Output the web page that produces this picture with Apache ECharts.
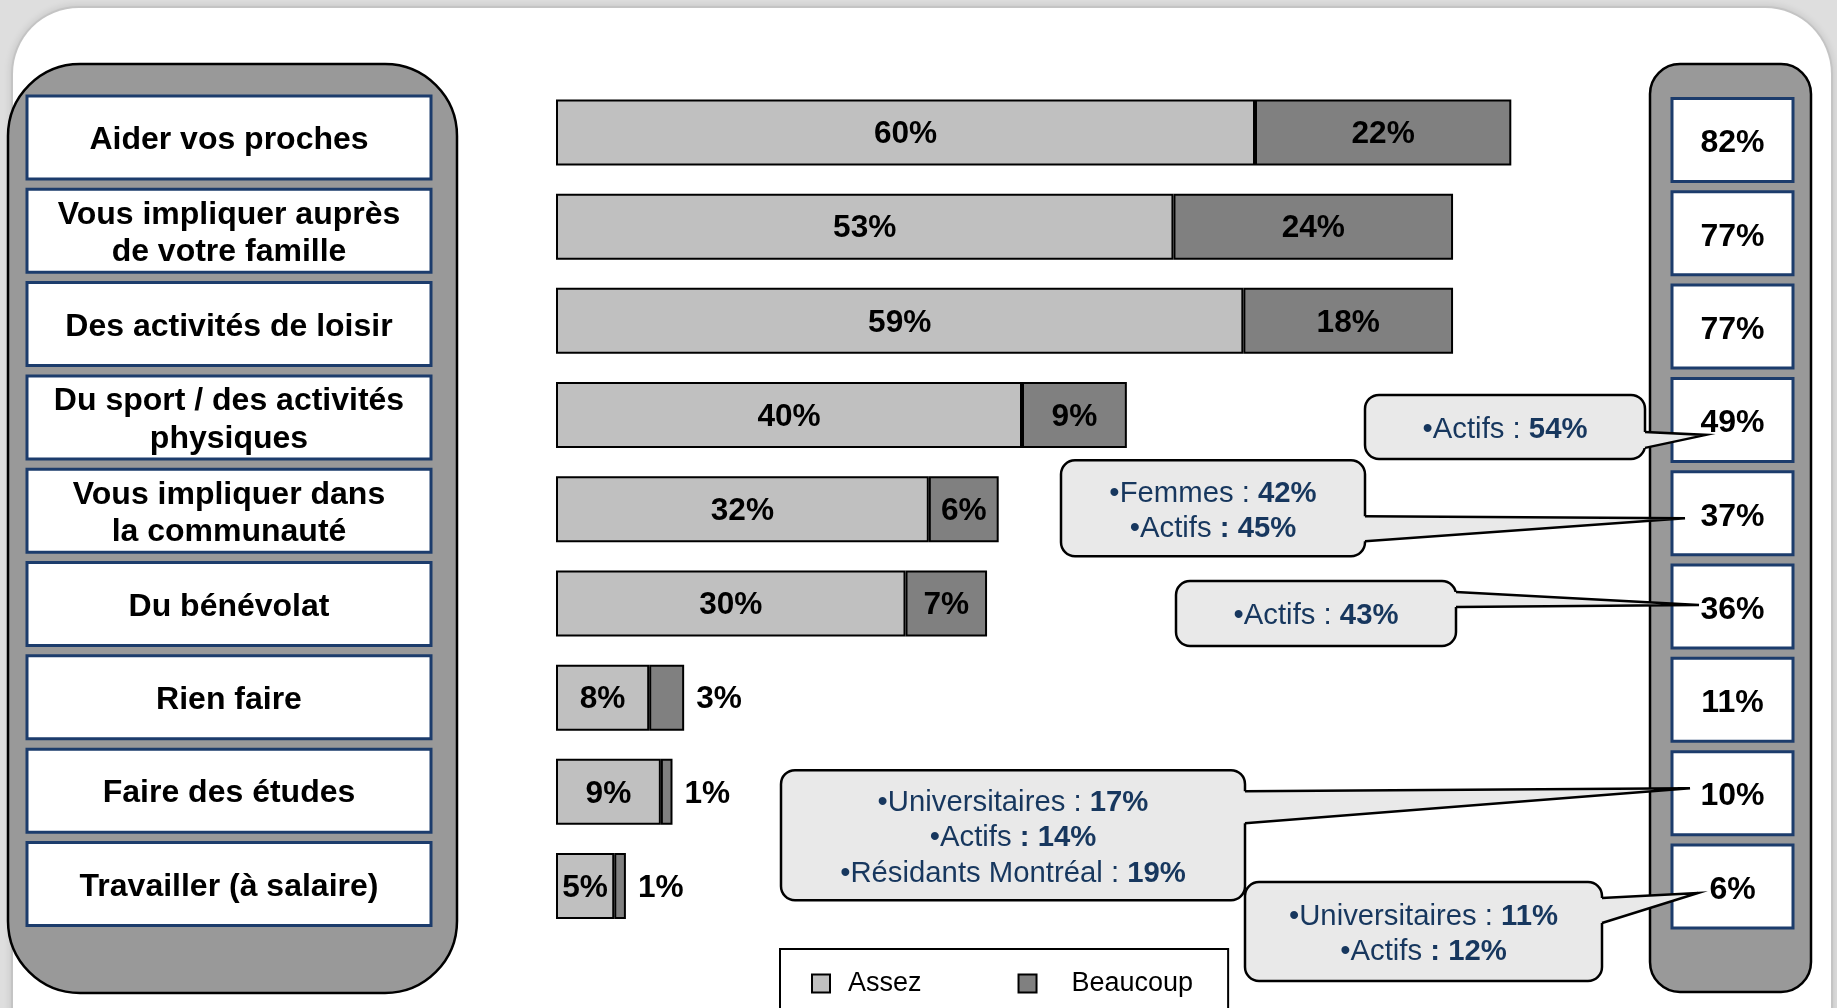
<!DOCTYPE html>
<html>
<head>
<meta charset="utf-8">
<script src="https://cdn.jsdelivr.net/npm/echarts@6/dist/echarts.min.js"></script>
<style>
html,body{margin:0;padding:0;background:#dedede;overflow:hidden;width:1837px;height:1008px;}
#frame{position:absolute;left:13px;top:8px;width:1818px;height:1100px;background:#fff;border-radius:66px;box-shadow:0 0 0 2px #c4c4c4,0 0 7px 3px rgba(0,0,0,0.10);}
#chart{position:absolute;left:0;top:0;width:1837px;height:1008px;}
</style>
</head>
<body>
<div id="frame"></div>
<div id="chart"></div>
<script>
// ---------- data ----------
const categories = [
  'Aider vos proches',
  'Vous impliquer auprès\nde votre famille',
  'Des activités de loisir',
  'Du sport / des activités\nphysiques',
  'Vous impliquer dans\nla communauté',
  'Du bénévolat',
  'Rien faire',
  'Faire des études',
  'Travailler (à salaire)'
];
const seriesNames = ['Assez', 'Beaucoup'];
const assez = [60, 53, 59, 40, 32, 30, 8, 9, 5];
const beaucoup = [22, 24, 18, 9, 6, 7, 3, 1, 1];
const totals = [82, 77, 77, 49, 37, 36, 11, 10, 6];
const calloutCategory = [3, 4, 5, 7, 8];
const calloutGroups = [
  ['Actifs'],
  ['Femmes', 'Actifs'],
  ['Actifs'],
  ['Universitaires', 'Actifs', 'Résidants Montréal'],
  ['Universitaires', 'Actifs']
];
const calloutValues = [[54], [42, 45], [43], [17, 14, 19], [11, 12]];

// ---------- style / layout ----------
const FONT = '"Liberation Sans", Arial, Helvetica, sans-serif';
const BLUE = '#17375e';
const calloutLayout = [
  {x: 1365, w: 280, dy: -25,   h: 64,  b1: 12,    b2: 28,  tipX: 1706, tipDy: 15},
  {x: 1061, w: 304, dy: -53,   h: 96,  b1: 3,     b2: 28,  tipX: 1685, tipDy: 5},
  {x: 1176, w: 280, dy: -25.6, h: 65,  b1: -14.6, b2: 0.4, tipX: 1699, tipDy: -1.6},
  {x: 781,  w: 464, dy: -23,   h: 130, b1: -2,    b2: 30,  tipX: 1690, tipDy: -5},
  {x: 1245, w: 357, dy: -4.5,  h: 99,  b1: 11.5,  b2: 36.5, tipX: 1698, tipDy: 6.5}
];
const boldColon = [[false], [false, true], [false], [false, true, false], [false, true]];
const legendTextGap = [13, 30];

const chart = echarts.init(document.getElementById('chart'), null, {renderer: 'canvas'});

const barLabel = {
  show: true, position: 'inside', color: '#000',
  fontFamily: FONT, fontWeight: 'bold', fontSize: 31.6, offset: [0, 2],
  formatter: p => p.value + '%'
};

chart.setOption({
  animation: false,
  backgroundColor: 'transparent',
  grid: [
    {left: 556, top: 85.4, width: 1165, height: 847.7},
    {left: 0, top: 90.8, width: 100, height: 839.8}
  ],
  xAxis: [
    {type: 'value', min: 0, max: 100, show: false, gridIndex: 0},
    {type: 'value', min: 0, max: 1, show: false, gridIndex: 1}
  ],
  yAxis: [
    {type: 'category', data: categories, inverse: true, show: false, gridIndex: 0},
    {type: 'category', data: categories, inverse: true, show: false, gridIndex: 1}
  ],
  legend: {
    data: seriesNames.map((nm, i) => ({name: nm, textStyle: {padding: [0, 0, 0, legendTextGap[i]]}})),
    left: 780, top: 949, orient: 'horizontal',
    padding: [21, 35, 40, 31],
    itemGap: 96, itemWidth: 18, itemHeight: 18,
    icon: 'rect',
    borderColor: '#000', borderWidth: 2, borderRadius: 0, backgroundColor: '#fff',
    itemStyle: {borderColor: '#000', borderWidth: 2},
    textStyle: {fontFamily: FONT, fontSize: 27, color: '#000'},
    selectedMode: false
  },
  series: [
    {
      name: seriesNames[0], type: 'bar', stack: 'total', barWidth: 66,
      xAxisIndex: 0, yAxisIndex: 0,
      data: assez,
      itemStyle: {color: '#c0c0c0', borderColor: '#000', borderWidth: 2},
      label: barLabel
    },
    {
      name: seriesNames[1], type: 'bar', stack: 'total', barWidth: 66,
      xAxisIndex: 0, yAxisIndex: 0,
      data: beaucoup.map(v => v < 5 ? {value: v, label: {position: 'right', distance: 12}} : v),
      itemStyle: {color: '#808080', borderColor: '#000', borderWidth: 2},
      label: barLabel
    }
  ]
});

function buildGraphics() {
  const g = [];
  g.push({type: 'rect', z: 1, shape: {x: 8, y: 64, width: 449, height: 929, r: 72},
    style: {fill: '#999999', stroke: '#000', lineWidth: 2.5}});
  g.push({type: 'rect', z: 1, shape: {x: 1650, y: 64, width: 161, height: 928, r: 30},
    style: {fill: '#999999', stroke: '#000', lineWidth: 2.5}});
  const centers = categories.map((_, i) => chart.convertToPixel({gridIndex: 1}, [0, i])[1]);
  categories.forEach((name, i) => {
    const c = centers[i];
    g.push({type: 'rect', z: 2, shape: {x: 27, y: c - 41.5, width: 404, height: 83},
      style: {fill: '#fff', stroke: '#1c3c6c', lineWidth: 3}});
    g.push({type: 'text', z: 3, x: 229, y: c + 3,
      style: {text: name, fill: '#000', font: 'bold 32px ' + FONT, align: 'center', verticalAlign: 'middle', lineHeight: 37.5}});
    const cr = c + 2.5;
    g.push({type: 'rect', z: 2, shape: {x: 1672, y: cr - 41.5, width: 121, height: 83},
      style: {fill: '#fff', stroke: '#1c3c6c', lineWidth: 3}});
    g.push({type: 'text', z: 3, x: 1732.5, y: cr + 3.5,
      style: {text: totals[i] + '%', fill: '#000', font: 'bold 32px ' + FONT, align: 'center', verticalAlign: 'middle'}});
  });
  const rich = {
    n: {fontFamily: FONT, fontSize: 29.3, fill: BLUE, color: BLUE},
    b: {fontFamily: FONT, fontSize: 29.3, fontWeight: 'bold', fill: BLUE, color: BLUE}
  };
  calloutCategory.forEach((cat, k) => {
    const L = calloutLayout[k];
    const c = centers[cat] + 2.5;
    const top = c + L.dy;
    const right = L.x + L.w;
    g.push({type: 'rect', z: 10, shape: {x: L.x, y: top, width: L.w, height: L.h, r: 14},
      style: {fill: '#e9e9e9', stroke: '#000', lineWidth: 2.5}});
    g.push({type: 'polygon', z: 11,
      shape: {points: [[right - 4, c + L.b1], [right, c + L.b1], [L.tipX, c + L.tipDy], [right, c + L.b2], [right - 4, c + L.b2]]},
      style: {fill: '#e9e9e9'}});
    g.push({type: 'polyline', z: 12,
      shape: {points: [[right, c + L.b1], [L.tipX, c + L.tipDy], [right, c + L.b2]]},
      style: {stroke: '#000', lineWidth: 2.5, fill: null, lineJoin: 'miter'}});
    const groups = calloutGroups[k];
    const vals = calloutValues[k];
    const n = groups.length;
    groups.forEach((grp, j) => {
      const y = top + L.h / 2 + (j - (n - 1) / 2) * 35.5 + 3;
      const txt = boldColon[k][j]
        ? '{n|•' + grp + ' }{b|: ' + vals[j] + '%}'
        : '{n|•' + grp + ' : }{b|' + vals[j] + '%}';
      g.push({type: 'text', z: 13, x: L.x + L.w / 2, y: y,
        style: {text: txt, rich: rich, align: 'center', verticalAlign: 'middle', fill: BLUE}});
    });
  });
  return g;
}

chart.setOption({graphic: buildGraphics()});
</script>
</body>
</html>
